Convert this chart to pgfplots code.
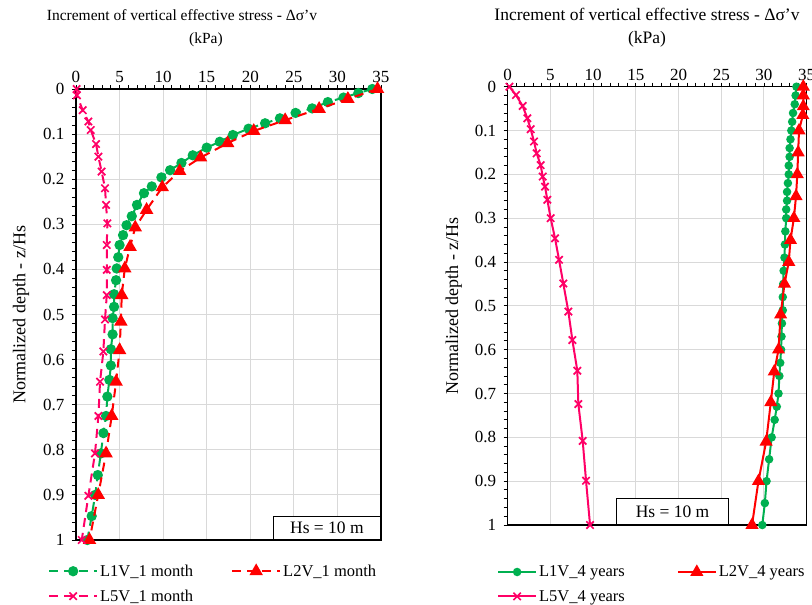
\documentclass[border=0pt]{standalone}
\usepackage{fontspec}
\setmainfont{Liberation Serif}
\usepackage{pgfplots}
\usepackage{pgfplotstable}
\pgfplotsset{compat=1.18}
\definecolor{cgreen}{HTML}{00B050}
\definecolor{cred}{HTML}{FF0000}
\definecolor{cpink}{HTML}{FF0066}
\definecolor{cgrid}{HTML}{D9D9D9}

% ---- 1 month (left) ----
\pgfplotstableread{
x y
34.0 0
32.4 0.009
30.7 0.019
28.9 0.029
27.1 0.043
25.2 0.053
23.4 0.065
21.7 0.076
19.8 0.088
18.0 0.102
16.5 0.117
15.0 0.130
13.4 0.147
12.1 0.164
10.8 0.180
9.8 0.196
8.7 0.216
7.8 0.231
7.0 0.257
6.4 0.282
5.8 0.302
5.4 0.324
5.0 0.346
4.85 0.373
4.67 0.398
4.6 0.424
4.37 0.455
4.37 0.483
4.2 0.508
4.2 0.544
4.0 0.577
4.0 0.613
3.83 0.645
3.6 0.682
3.45 0.725
3.15 0.763
2.85 0.808
2.5 0.856
2.2 0.900
1.8 0.947
1.3 1.0
}\LoneM
\pgfplotstableread{
x y
34.6 0
31.2 0.022
27.9 0.044
24.0 0.069
20.4 0.093
17.4 0.120
14.3 0.152
11.9 0.182
9.9 0.218
8.1 0.268
6.8 0.307
6.2 0.350
5.6 0.398
5.25 0.457
5.15 0.516
5.0 0.579
4.6 0.649
4.1 0.725
3.45 0.808
2.55 0.900
1.55 1.0
}\LtwoM
\pgfplotstableread{
x y
0.07 0
0.1 0.014
0.77 0.047
1.42 0.072
1.69 0.091
2.3 0.122
2.57 0.150
2.94 0.183
3.33 0.220
3.45 0.257
3.6 0.298
3.53 0.346
3.53 0.401
3.53 0.457
3.33 0.511
3.14 0.582
2.76 0.649
2.57 0.725
2.18 0.808
1.42 0.902
0.66 1.0
}\LfiveM

% ---- 4 years (right) ----
\pgfplotstableread{
x y
33.8 0
33.7 0.02
33.6 0.04
33.4 0.06
33.3 0.08
33.2 0.10
33.1 0.12
33.0 0.14
33.0 0.16
32.9 0.18
32.9 0.20
32.8 0.22
32.7 0.24
32.7 0.26
32.6 0.28
32.6 0.30
32.5 0.33
32.45 0.36
32.4 0.39
32.3 0.42
32.25 0.45
32.2 0.48
32.2 0.51
32.1 0.54
32.05 0.57
32.0 0.60
31.9 0.63
31.8 0.66
31.7 0.70
31.5 0.73
31.25 0.76
30.9 0.80
30.6 0.85
30.3 0.90
30.1 0.95
29.8 1.0
}\LoneY
\pgfplotstableread{
x y
34.6 0
34.6 0.02
34.6 0.045
34.55 0.065
34.1 0.10
34.0 0.15
33.9 0.20
33.75 0.25
33.5 0.30
33.1 0.35
32.9 0.40
32.4 0.45
31.95 0.52
31.7 0.60
31.2 0.65
30.8 0.72
30.25 0.81
29.35 0.90
28.6 1.0
}\LtwoY
\pgfplotstableread{
x y
0.2 0
0.97 0.019
1.75 0.044
2.3 0.072
2.69 0.097
3.08 0.125
3.39 0.152
3.86 0.179
4.1 0.205
4.37 0.228
4.64 0.258
5.03 0.300
5.54 0.346
6.01 0.395
6.51 0.449
7.1 0.513
7.57 0.578
8.15 0.648
8.27 0.724
8.78 0.808
9.17 0.899
9.64 1.0
}\LfiveY

\newcommand{\fsT}{\fontsize{17}{20}\selectfont}
\newcommand{\fsL}{\fontsize{16.5}{19}\selectfont}

\pgfplotsset{
  panel/.style={
    scale only axis,
    y dir=reverse,
    xmin=0, xmax=35, ymin=0, ymax=1,
    xtick={0,5,10,15,20,25,30,35},
    ytick={0,0.1,0.2,0.3,0.4,0.5,0.6,0.7,0.8,0.9,1},
    minor x tick num=4,
    minor y tick num=4,
    xtick pos=right, xticklabel pos=right,
    ytick pos=left,
    tick align=outside,
    major tick length=4pt, minor tick length=4pt,
    grid=major,
    major grid style={draw=cgrid, line width=1pt},
    axis line style={line width=1.3pt},
    tick style={black, line width=0.9pt},
    /pgf/number format/assume math mode=true,
    tick label style={font=\fsT},
    yticklabel style={xshift=-4pt},
    xticklabel style={yshift=-1pt},
    ylabel={Normalized depth - z/Hs},
    ylabel style={font=\fontsize{18}{21}\selectfont, at={(axis description cs:-0.18,0.5)}, anchor=center},
    clip mode=individual,
    legend columns=2,
    legend cell align=left,
    legend style={draw=none, fill=none, inner sep=0pt, font=\fsL, row sep=8pt,
      nodes={inner xsep=2pt}},
  },
}

\begin{document}
\begin{tikzpicture}[x=1pt,y=1pt]

% ---------- left panel ----------
\begin{axis}[panel,
  at={(76pt,-89pt)}, anchor=origin, width=305pt, height=451pt,
  legend style={at={(axis description cs:-0.092,-0.05)}, anchor=north west,
    /tikz/every even column/.append style={column sep=36pt}},
  legend image code/.code={\draw[mark repeat=2,mark phase=2] plot coordinates {(0pt,0pt) (24pt,0pt) (48pt,0pt)};},
]
\addplot[cgreen, line width=2pt, dash pattern=on 9pt off 6pt, mark=*, mark size=4.1pt, mark options={solid}] table {\LoneM};
\addlegendentry{L1V\_1 month}
\addplot[cred, line width=2pt, dash pattern=on 9pt off 6pt, mark=triangle*, mark size=5.8pt, mark options={solid}] table {\LtwoM};
\addlegendentry{L2V\_1 month}
\addplot[cpink, line width=2pt, dash pattern=on 9pt off 6pt, mark=x, mark size=5.2pt, mark options={solid, line width=1.7pt}] table {\LfiveM};
\addlegendentry{L5V\_1 month}
\node[draw, line width=1.2pt, fill=white, anchor=south east, minimum width=107pt, minimum height=23pt, inner sep=0pt, font=\fontsize{17.5}{20}\selectfont] at (axis description cs:1,0) {Hs = 10 m};
\end{axis}

% ---------- right panel ----------
\begin{axis}[panel,
  at={(507.7pt,-86.7pt)}, anchor=origin, width=299pt, height=438.3pt,
  legend style={at={(axis description cs:-0.036,-0.088)}, anchor=north west,
    /tikz/every even column/.append style={column sep=50pt}},
  legend image code/.code={\draw[mark repeat=2,mark phase=2] plot coordinates {(0pt,0pt) (19pt,0pt) (38pt,0pt)};},
]
\addplot[cgreen, line width=2pt, mark=*, mark size=3.2pt] table {\LoneY};
\addlegendentry{L1V\_4 years}
\addplot[cred, line width=2pt, mark=triangle*, mark size=5.6pt] table {\LtwoY};
\addlegendentry{L2V\_4 years}
\addplot[cpink, line width=2pt, mark=x, mark size=5.2pt, mark options={line width=1.7pt}] table {\LfiveY};
\addlegendentry{L5V\_4 years}
\node[draw, line width=1.2pt, fill=white, anchor=south west, minimum width=112pt, minimum height=26pt, inner sep=0pt, font=\fontsize{17.5}{20}\selectfont] at (axis description cs:0.362,0) {Hs = 10 m};
\end{axis}

% ---------- titles ----------
\node[font=\fontsize{15.5}{18}\selectfont] at (182,-15) {Increment of vertical effective stress - Δσ'v};
\node[font=\fontsize{15.5}{18}\selectfont] at (206,-40) {(kPa)};
\node[font=\fontsize{17.5}{20}\selectfont] at (647,-14) {Increment of vertical effective stress - Δσ'v};
\node[font=\fontsize{17.5}{20}\selectfont] at (647,-39) {(kPa)};

\pgfresetboundingbox
\path[use as bounding box] (0,0) rectangle (812,-605);
\end{tikzpicture}
\end{document}
